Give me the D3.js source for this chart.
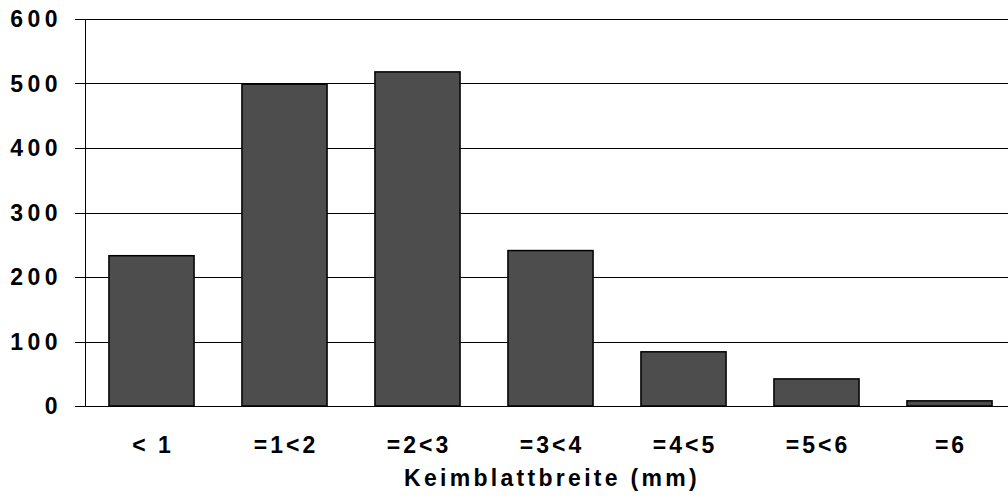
<!DOCTYPE html>
<html>
<head>
<meta charset="utf-8">
<script src="https://cdn.jsdelivr.net/npm/d3@7"></script>
<style>
  body { margin: 0; background: #fff; }
  text { font-family: "Liberation Sans", Arial, sans-serif; font-weight: bold; fill: #000; }
</style>
</head>
<body>
<div id="graphic"></div>
<script>
(function() {
  var width = 1008, height = 500;
  var margin = { top: 19, left: 85, bottom: 94 };

  /*** DATA ***/
  var categories = ["< 1", "=1<2", "=2<3", "=3<4", "=4<5", "=5<6", "=6"];
  var counts = [233, 499, 518, 241, 84, 42, 8];
  var yTicks = [0, 100, 200, 300, 400, 500, 600];
  var xTitle = "Keimblattbreite (mm)";

  var barColor = "#4d4d4d";

  var svg = d3.select("#graphic")
        .append("svg")
        .attr("width", width)
        .attr("height", height);

  /*** SCALES ***/
  var x = d3.scaleBand()
    .domain(categories)
    .range([margin.left, 1016])
    .paddingInner(0.36)
    .paddingOuter(0.18);

  var y = d3.scaleLinear()
    .domain([0, 600])
    .range([height - margin.bottom, margin.top]);

  /*** GRIDLINES ***/
  svg.append("g")
    .selectAll("line")
    .data(yTicks).enter().append("line")
    .attr("x1", margin.left - 10)
    .attr("x2", width)
    .attr("y1", function(d) { return Math.round(y(d)) + 0.5; })
    .attr("y2", function(d) { return Math.round(y(d)) + 0.5; })
    .attr("stroke", "#000")
    .attr("stroke-width", 1);

  /*** BARS ***/
  svg.selectAll(".bar")
    .data(counts).enter().append("rect")
    .attr("class", "bar")
    .attr("x", function(d, i) { return x(categories[i]); })
    .attr("y", function(d) { return y(d); })
    .attr("width", x.bandwidth())
    .attr("height", function(d) { return y(0) - y(d); })
    .attr("fill", barColor)
    .attr("stroke", "#000")
    .attr("stroke-width", 1.5);

  /*** Y AXIS ***/
  svg.append("line")
    .attr("x1", margin.left + 0.5)
    .attr("x2", margin.left + 0.5)
    .attr("y1", y(600))
    .attr("y2", y(0))
    .attr("stroke", "#000");

  svg.append("g")
    .selectAll("text")
    .data(yTicks).enter().append("text")
    .attr("x", 62)
    .attr("y", function(d) { return y(d); })
    .attr("dy", "0.36em")
    .attr("text-anchor", "end")
    .style("font-size", "23px")
    .style("letter-spacing", "4.5px")
    .text(function(d) { return d; });

  /*** X LABELS ***/
  svg.append("g")
    .selectAll("text")
    .data(categories).enter().append("text")
    .attr("x", function(d) { return x(d) + x.bandwidth() / 2 + 1.5; })
    .attr("y", 453)
    .attr("text-anchor", "middle")
    .style("font-size", "23px")
    .style("letter-spacing", "3px")
    .text(function(d) { return d; });

  svg.append("text")
    .attr("x", 552)
    .attr("y", 486)
    .attr("text-anchor", "middle")
    .style("font-size", "23px")
    .style("letter-spacing", "3.3px")
    .text(xTitle);
})();
</script>
</body>
</html>
